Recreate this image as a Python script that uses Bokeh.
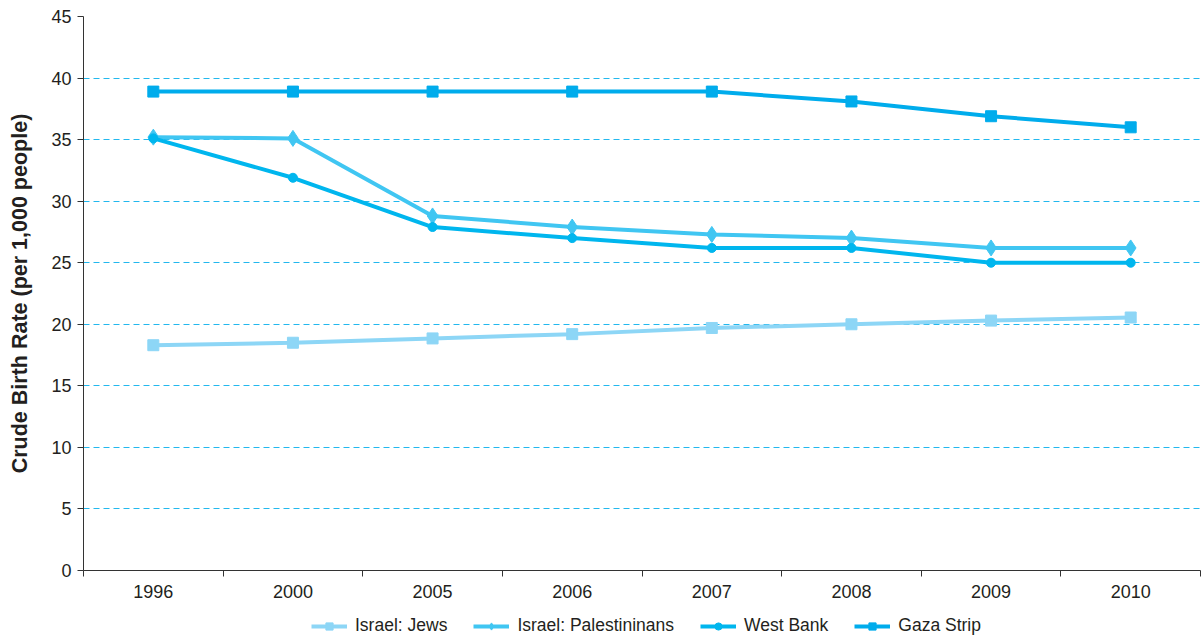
from bokeh.plotting import figure
from bokeh.models import FixedTicker, Range1d, Legend, LegendItem
from bokeh.layouts import column
from bokeh.embed import file_html
from bokeh.resources import INLINE

years = ["1996", "2000", "2005", "2006", "2007", "2008", "2009", "2010"]
israel_jews = [18.3, 18.5, 18.85, 19.2, 19.7, 20.0, 20.3, 20.55]
israel_pal = [35.2, 35.1, 28.8, 27.9, 27.3, 27.0, 26.2, 26.2]
west_bank = [35.1, 31.9, 27.9, 27.0, 26.2, 26.2, 25.0, 25.0]
gaza = [38.9, 38.9, 38.9, 38.9, 38.9, 38.1, 36.9, 36.0]
y_ticks = [0, 5, 10, 15, 20, 25, 30, 35, 40, 45]

FONT = "Liberation Sans"
xs = [i + 0.5 for i in range(len(years))]

p = figure(frame_width=1117, frame_height=554, output_backend="svg", toolbar_location=None,
           x_range=Range1d(0, len(years)), y_range=Range1d(0, 45),
           min_border_left=83, min_border_right=2, min_border_top=16, min_border_bottom=0)
p.outline_line_color = None
p.background_fill_color = "white"
p.border_fill_color = "white"

# axes
p.xaxis.ticker = FixedTicker(ticks=xs, minor_ticks=list(range(len(years) + 1)))
p.xaxis.major_label_overrides = {x: y for x, y in zip(xs, years)}
p.xaxis.major_tick_out = 0
p.xaxis.major_tick_in = 0
p.xaxis.minor_tick_out = 6
p.xaxis.minor_tick_in = 0
p.xaxis.minor_tick_line_color = "#333333"
p.xaxis.axis_line_color = "#333333"
p.xaxis.axis_line_width = 1
p.xaxis.major_label_text_font = FONT
p.xaxis.major_label_text_font_size = "18px"
p.xaxis.major_label_text_color = "#231f20"
p.xaxis.major_label_standoff = 8

p.yaxis.ticker = FixedTicker(ticks=y_ticks)
p.yaxis.minor_tick_line_color = None
p.yaxis.major_tick_out = 6
p.yaxis.major_tick_in = 0
p.yaxis.major_tick_line_color = "#333333"
p.yaxis.axis_line_color = "#333333"
p.yaxis.major_label_text_font = FONT
p.yaxis.major_label_text_font_size = "18px"
p.yaxis.major_label_text_color = "#231f20"
p.yaxis.major_label_standoff = 6
p.yaxis.axis_label = "Crude Birth Rate (per 1,000 people)"
p.yaxis.axis_label_text_font = FONT
p.yaxis.axis_label_text_font_size = "21.5px"
p.yaxis.axis_label_text_font_style = "bold"
p.yaxis.axis_label_text_color = "#231f20"
p.yaxis.axis_label_standoff = 16

p.xgrid.grid_line_color = None
p.ygrid.grid_line_color = "#22b8ee"
p.ygrid.grid_line_dash = "6 4"
p.ygrid.grid_line_width = 1

series = [
    ("Israel: Jews", israel_jews, "#8dd6f6", "square", 11),
    ("Israel: Palestininans", israel_pal, "#40c6f2", "diamond", 16),
    ("West Bank", west_bank, "#00b6ee", "circle", 9),
    ("Gaza Strip", gaza, "#00acec", "square", 11),
]

# legend strip: a second figure whose view shows none of the data
leg_fig = figure(width=1202, height=40, output_backend="svg", toolbar_location=None,
                 x_range=Range1d(100, 101), y_range=Range1d(100, 101),
                 min_border=0, x_axis_location=None, y_axis_location=None)
leg_fig.outline_line_color = None
leg_fig.xgrid.grid_line_color = None
leg_fig.ygrid.grid_line_color = None
leg_fig.border_fill_color = "white"

items = []
for name, vals, color, marker, size in series:
    p.line(xs, vals, line_color=color, line_width=4)
    p.scatter(xs, vals, marker=marker, size=size, fill_color=color, line_color=color)
    l1 = leg_fig.line(xs, vals, line_color=color, line_width=4)
    l2 = leg_fig.scatter(xs, vals, marker=marker, size=size, fill_color=color, line_color=color)
    items.append(LegendItem(label=name, renderers=[l1, l2]))

legend = Legend(items=items, orientation="horizontal", location=(228, 4),
                label_text_font=FONT, label_text_font_size="17.5px", label_text_color="#231f20",
                border_line_color=None, background_fill_alpha=0,
                glyph_width=36, glyph_height=18, label_height=18,
                spacing=26, padding=0, margin=0, label_standoff=8)
leg_fig.add_layout(legend, "center")

layout = column(p, leg_fig, spacing=0)
open("out.html", "w").write(file_html(layout, INLINE))
